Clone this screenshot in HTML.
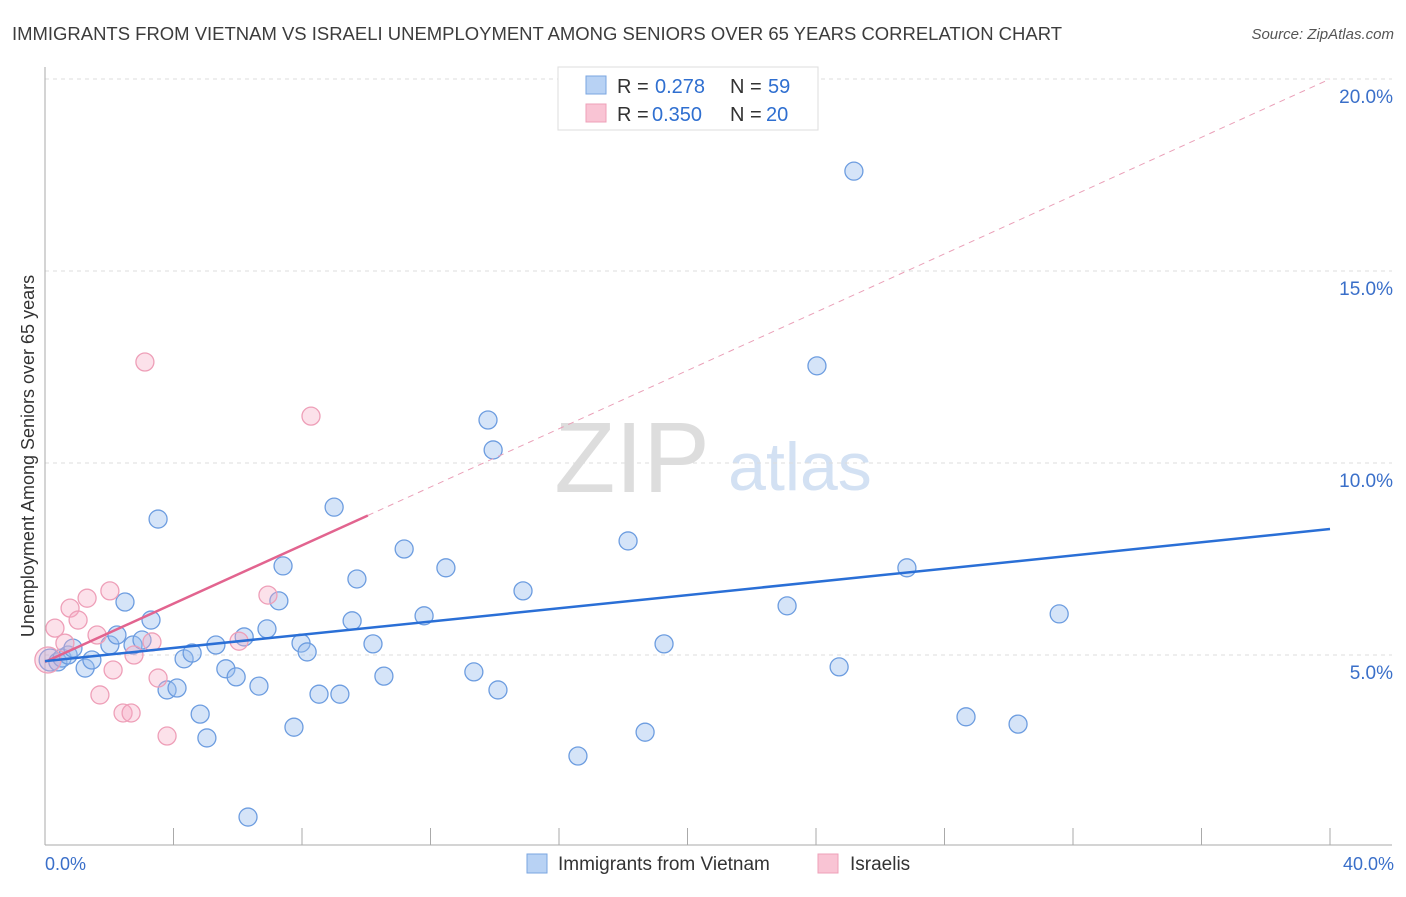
<!DOCTYPE html>
<html><head><meta charset="utf-8"><style>
body{margin:0;background:#fff;font-family:"Liberation Sans",sans-serif;}
svg text{font-family:"Liberation Sans",sans-serif;}
</style></head><body>
<svg width="1406" height="892" xmlns="http://www.w3.org/2000/svg">
<text x="12" y="40" font-size="18" fill="#3c3c3c" textLength="1050" lengthAdjust="spacingAndGlyphs">IMMIGRANTS FROM VIETNAM VS ISRAELI UNEMPLOYMENT AMONG SENIORS OVER 65 YEARS CORRELATION CHART</text>
<text x="1394" y="39" font-size="15" fill="#555" text-anchor="end" font-style="italic">Source: ZipAtlas.com</text>
<text x="632" y="492" font-size="100" fill="#ddd" font-family="Liberation Serif" text-anchor="middle">ZIP</text>
<text x="800" y="490" font-size="68" fill="#d3e1f3" text-anchor="middle">atlas</text>
<g id="grid"></g>
<g id="axes"></g>
<g id="points"></g>
<g id="trends"></g>
<text transform="translate(34,456) rotate(-90)" font-size="18" fill="#333" text-anchor="middle">Unemployment Among Seniors over 65 years</text>
<text x="45" y="870" font-size="18" fill="#3a6fc9">0.0%</text>
<text x="1394" y="870" font-size="18" fill="#3a6fc9" text-anchor="end">40.0%</text>
<g>
<rect x="558" y="67" width="260" height="63" fill="#fff" stroke="#ddd"/>
<rect x="586" y="76" width="20" height="18" fill="#b8d2f4" stroke="#7aa6e0"/>
<rect x="586" y="104" width="20" height="18" fill="#f9c4d4" stroke="#eea0b8"/>
<text x="617" y="93" font-size="20" fill="#333">R =</text>
<text x="655" y="93" font-size="20" fill="#2f6fd0">0.278</text>
<text x="730" y="93" font-size="20" fill="#333">N =</text>
<text x="768" y="93" font-size="20" fill="#2f6fd0">59</text>
<text x="617" y="121" font-size="20" fill="#333">R =</text>
<text x="652" y="121" font-size="20" fill="#2f6fd0">0.350</text>
<text x="730" y="121" font-size="20" fill="#333">N =</text>
<text x="766" y="121" font-size="20" fill="#2f6fd0">20</text>
</g>
<g>
<rect x="527" y="854" width="20" height="19" fill="#b8d2f4" stroke="#7aa6e0"/>
<text x="558" y="870" font-size="19" fill="#333">Immigrants from Vietnam</text>
<rect x="818" y="854" width="20" height="19" fill="#f9c4d4" stroke="#eea0b8"/>
<text x="850" y="870" font-size="19" fill="#333">Israelis</text>
</g>
</svg>
<script>
const yTicks=[5,10,15,20];
const yTickLabels=["5.0%","10.0%","15.0%","20.0%"];
const xTicks=[0,4,8,12,16,20,24,28,32,36,40];
const blueX=[0.16,0.4,0.53,0.72,0.87,1.25,1.46,2.02,2.24,2.49,2.74,3.02,3.3,3.52,3.8,4.11,4.33,4.58,4.83,5.04,5.32,5.63,5.95,6.2,6.32,6.66,6.91,7.28,7.41,7.75,7.97,8.16,8.53,9.0,9.18,9.56,9.71,10.21,10.55,11.18,11.8,12.48,13.35,13.79,13.95,14.1,14.88,16.59,18.15,18.68,19.27,23.1,24.03,24.72,25.18,26.83,28.67,30.29,31.57];
const blueY=[4.87,4.82,4.92,5.0,5.18,4.66,4.87,5.26,5.52,6.38,5.26,5.39,5.91,8.54,4.09,4.14,4.9,5.05,3.46,2.84,5.26,4.64,4.43,5.47,0.78,4.19,5.68,6.41,7.32,3.12,5.31,5.08,3.98,8.85,3.98,5.89,6.98,5.29,4.45,7.76,6.02,7.27,4.56,11.12,10.34,4.09,6.67,2.37,7.97,2.99,5.29,6.28,12.53,4.69,17.6,7.27,3.39,3.2,6.07];
const pinkX=[0.09,0.31,0.62,0.78,1.03,1.31,1.62,1.71,2.02,2.12,2.43,2.68,2.77,3.11,3.33,3.52,3.8,6.04,6.94,8.28];
const pinkY=[4.87,5.70,5.31,6.22,5.91,6.48,5.52,3.96,6.67,4.61,3.49,3.49,5.0,12.63,5.34,4.4,2.89,5.36,6.56,11.22];
const blueTrend=[0,4.84,40,8.28];
const pinkTrend=[0,4.82,40,20.0];
const pinkSolidEnd=10.05;
const NS="http://www.w3.org/2000/svg";
const X=v=>45+v/40*1285;
const Y=v=>847-v/5*192;
function mk(tag,attrs,parent){const e=document.createElementNS(NS,tag);for(const k in attrs)e.setAttribute(k,attrs[k]);document.getElementById(parent).appendChild(e);return e;}
yTicks.forEach((t,i)=>{
 const l=mk('line',{x1:45,x2:1392,y1:Y(t),y2:Y(t),stroke:'#ddd','stroke-dasharray':'4,4'},'grid');
 
 
 const tx=mk('text',{x:1393,y:Y(t)+24,'font-size':19,fill:'#3a6fc9','text-anchor':'end'},'grid');
 tx.textContent=yTickLabels[i];
 
 
});
const ax=mk('line',{x1:45,x2:45,y1:67,y2:845,stroke:'#aaa'},'axes');


const bx=mk('line',{x1:45,x2:1392,y1:845,y2:845,stroke:'#aaa'},'axes');


xTicks.forEach(t=>{
 const l=mk('line',{x1:X(t),x2:X(t),y1:828,y2:845,stroke:'#aaa'},'axes');
 
 
});
blueX.forEach((x,i)=>{
 const c=mk('circle',{cx:X(x),cy:Y(blueY[i]),r:i==0?11:9,fill:'rgba(150,188,238,0.4)',stroke:'#6d9de0','stroke-width':1.3},'points');
 
 
});
pinkX.forEach((x,i)=>{
 const c=mk('circle',{cx:X(x),cy:Y(pinkY[i]),r:i==0?13:9,fill:'rgba(246,170,195,0.35)',stroke:'#ee9fb8','stroke-width':1.3},'points');
 
 
});
const pAt=x=>pinkTrend[1]+(pinkTrend[3]-pinkTrend[1])*(x-pinkTrend[0])/(pinkTrend[2]-pinkTrend[0]);
const pd=mk('line',{x1:X(pinkSolidEnd),y1:Y(pAt(pinkSolidEnd)),x2:X(pinkTrend[2]),y2:Y(pinkTrend[3]),stroke:'#eaa0b8','stroke-dasharray':'6,5','stroke-width':1},'trends');


const ps=mk('line',{x1:X(pinkTrend[0]),y1:Y(pinkTrend[1]),x2:X(pinkSolidEnd),y2:Y(pAt(pinkSolidEnd)),stroke:'#e2648f','stroke-width':2.5},'trends');


const bl=mk('line',{x1:X(blueTrend[0]),y1:Y(blueTrend[1]),x2:X(blueTrend[2]),y2:Y(blueTrend[3]),stroke:'#2a6fd6','stroke-width':2.5},'trends');


</script>
</body></html>
